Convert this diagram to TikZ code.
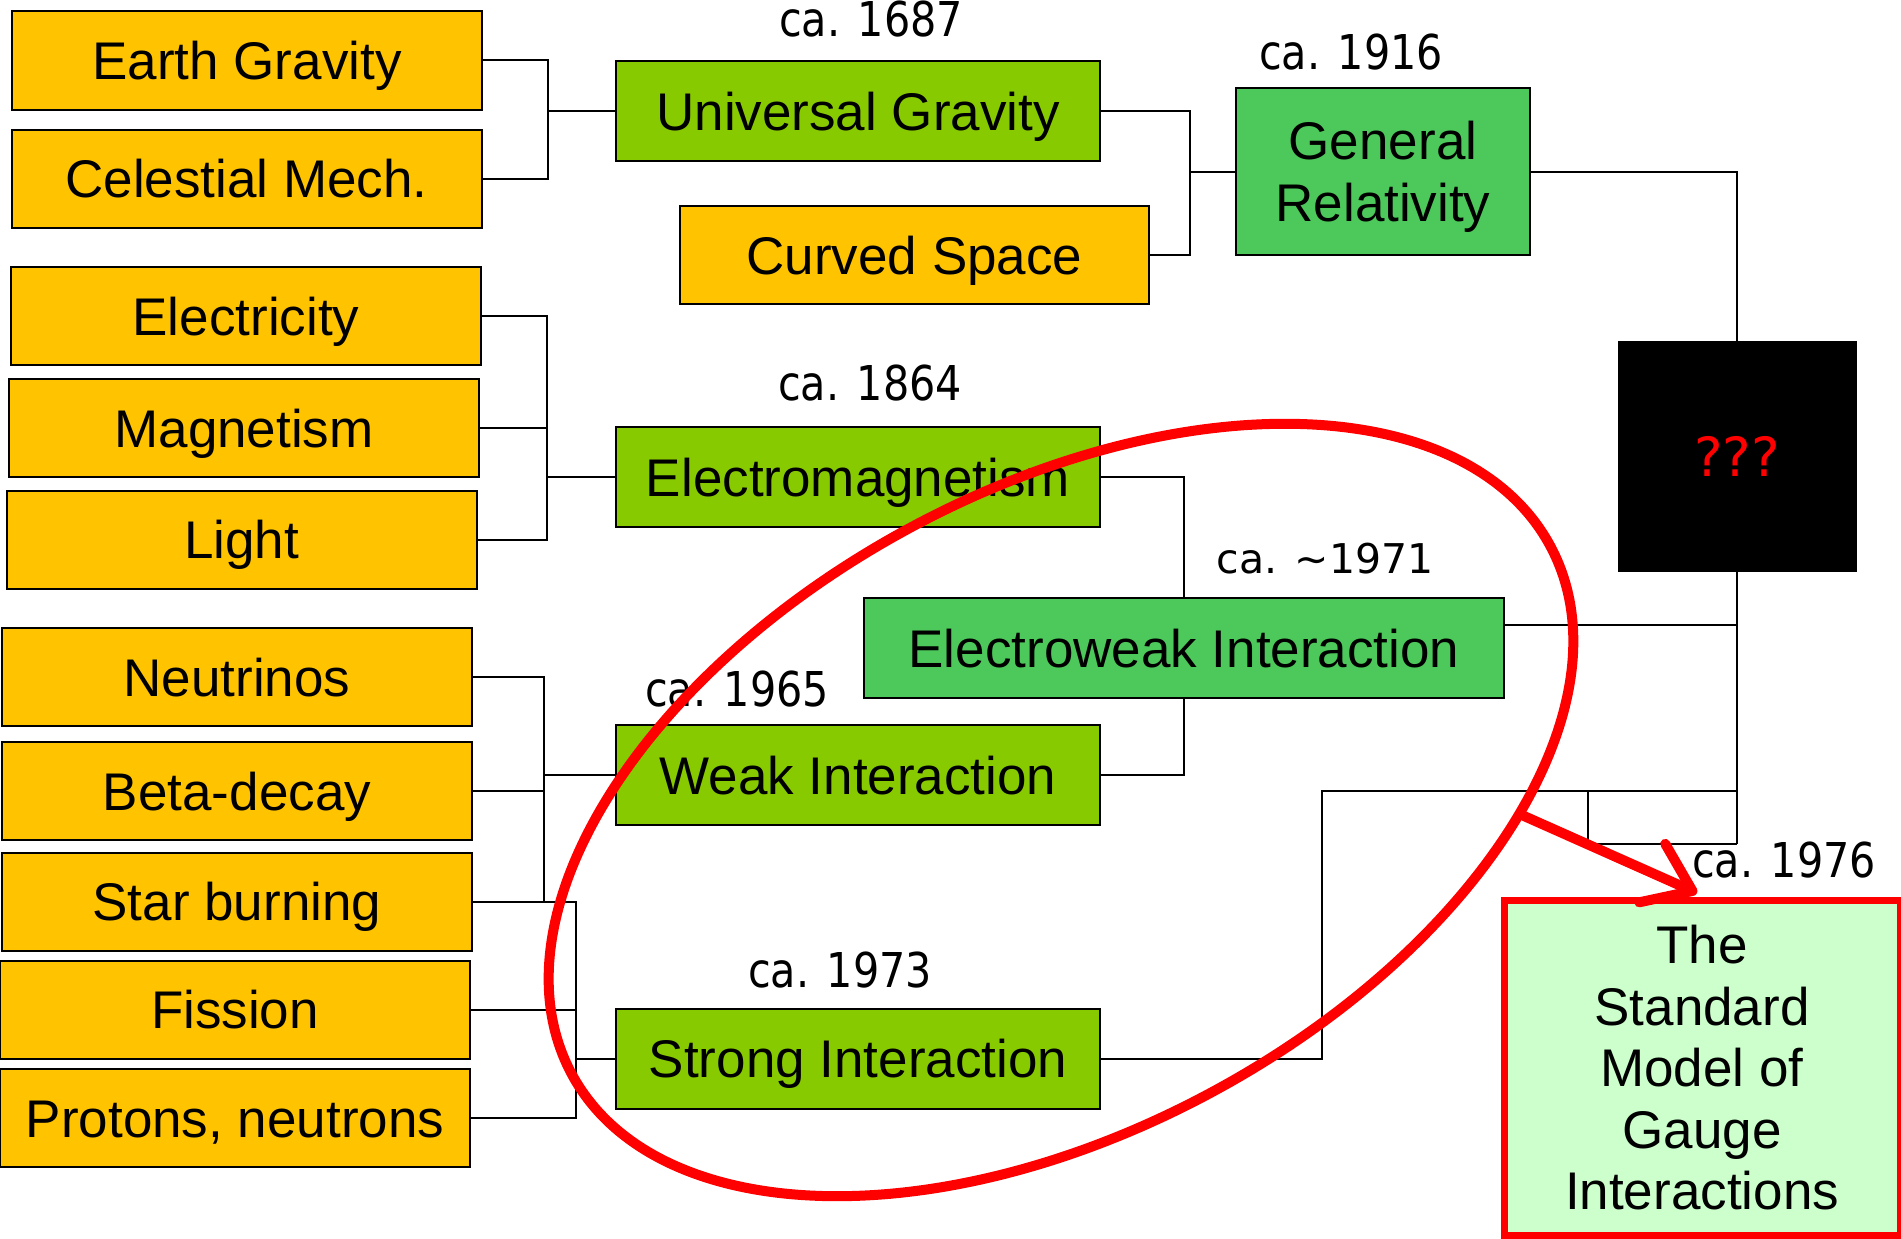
\documentclass[tikz,border=0pt]{standalone}
\usepackage{fontspec}
\setmainfont{Liberation Sans}
\newfontfamily\labfont[FakeStretch=0.86]{DejaVu Sans}
\newfontfamily\widefont{DejaVu Sans}
\usetikzlibrary{arrows.meta}
\definecolor{gold}{RGB}{255,195,0}
\definecolor{lime}{RGB}{136,202,0}
\definecolor{leaf}{RGB}{76,201,90}
\definecolor{mint}{RGB}{204,255,204}
\begin{document}
\begin{tikzpicture}[x=1pt,y=-1pt,
  box/.style={draw=black, line width=2pt, inner sep=0pt, align=center,
    text height=38pt, text depth=0pt, font=\fontsize{53}{61.5}\selectfont},
  src/.style={box, fill=gold, minimum width=470pt, minimum height=98pt},
  mid/.style={box, fill=lime, minimum width=484pt, minimum height=100pt},
  unif/.style={box, fill=leaf},
  lab/.style={anchor=base, inner sep=0pt, font=\labfont\fontsize{48}{50}\selectfont},
  wire/.style={draw=black, line width=2pt},
  ring/.style={draw=red, line width=10pt},
]
\path[use as bounding box] (0,0) rectangle (1901,1239);

% source phenomena
\node[src] (eg)   at (247,60.5)   {Earth Gravity};
\node[src] (cm)   at (246.5,178.5){Celestial Mech.};
\node[src] (el)   at (246,316)    {Electricity};
\node[src] (mag)  at (244,428)    {Magnetism};
\node[src] (lig)  at (241.5,539.5){Light};
\node[src] (neu)  at (237,677)    {Neutrinos};
\node[src] (beta) at (237,791)    {Beta-decay};
\node[src] (star) at (237,901.5)  {Star burning};
\node[src] (fis)  at (235,1009.5) {Fission};
\node[src] (pro)  at (235,1118)   {Protons, neutrons};
\node[src, minimum width=469pt] (cs) at (914.5,255) {Curved Space};

% first unifications
\node[mid] (ug)  at (858,111)    {Universal Gravity};
\node[mid] (em)  at (858,477)    {Electromagnetism};
\node[mid] (wk)  at (858,775)    {Weak Interaction};
\node[mid] (st)  at (858,1058.5) {Strong Interaction};

% later unifications (multi-line boxes: height covers all lines)
\node[unif, minimum width=294pt, minimum height=167pt, text height=99.5pt]
  (gr) at (1383,171.5) {General\\Relativity};
\node[unif, minimum width=640pt, minimum height=100pt] (ew) at (1184,648) {Electroweak Interaction};
\node[draw=black, fill=black, line width=1pt, minimum width=238pt, minimum height=230pt,
  inner sep=0pt, text=red, font=\widefont\fontsize{54}{60}\selectfont] (qq) at (1737,456) {???};
\node[box, draw=red, line width=7pt, fill=mint, minimum width=396pt, minimum height=335pt,
  text height=284pt] (sm) at (1702,1067.5) {The\\Standard\\Model of\\Gauge\\Interactions};

% dates
\node[lab] (d1687) at (871,37)   {ca. 1687};
\node[lab] (d1916) at (1351,70)  {ca. 1916};
\node[lab] (d1864) at (870,400)  {ca. 1864};
\node[lab, font=\widefont\fontsize{41}{44}\selectfont] (d1971) at (1325,573) {ca. \textasciitilde1971};
\node[lab] (d1965) at (737,706)  {ca. 1965};
\node[lab] (d1973) at (840,987)  {ca. 1973};
\node[lab] (d1976) at (1784,877) {ca. 1976};

% bus points
\coordinate (b1) at (548,111);
\coordinate (b2) at (1190,171.5);
\coordinate (b3) at (547,477);
\coordinate (b4) at (544,775);
\coordinate (b5) at (576,1058.5);
\coordinate (j1) at (1737,625);
\coordinate (j2) at (1737,791);
\coordinate (j3) at (1737,844);
\coordinate (k1) at (1322,791);
\coordinate (k2) at (1588,791);
\coordinate (k3) at (1588,844);

% connectors
\draw[wire] (eg.east) -| (b1) -- (ug.west);
\draw[wire] (cm.east) -| (b1);
\draw[wire] (ug.east) -| (b2) -- (gr.west);
\draw[wire] (cs.east) -| (b2);
\draw[wire] (gr.east) -| (qq.north);
\draw[wire] (el.east) -| (b3) -- (em.west);
\draw[wire] (mag.east) -| (b3);
\draw[wire] (lig.east) -| (b3);
\draw[wire] (em.east) -| (ew.north);
\draw[wire] (wk.east) -| (ew.south);
\draw[wire] (neu.east) -| (b4) -- (wk.west);
\draw[wire] (beta.east) -| (b4);
\draw[wire] (star.east) -| (b4);
\draw[wire] (star.east) -| (b5) -- (st.west);
\draw[wire] (fis.east) -| (b5);
\draw[wire] (pro.east) -| (b5);
\draw[wire] (ew.east |- j1) -- (j1);
\draw[wire] (qq.south) -- (j3);
\draw[wire] (st.east) -| (k1) -- (j2);
\draw[wire] (k2) -- (k3) -- (j3);

% highlight ring and arrow
\coordinate (rc) at (1061,810);
\draw[ring, rotate around={28.4:(rc)}] (rc) ellipse [x radius=556, y radius=320];
\coordinate (astart) at (1524,816);
\coordinate (atip) at (1697,893);
\draw[red, line width=10pt, line cap=round,
  -{Straight Barb[length=44pt,width=64pt,round]}] (astart) -- (atip);
\end{tikzpicture}
\end{document}
